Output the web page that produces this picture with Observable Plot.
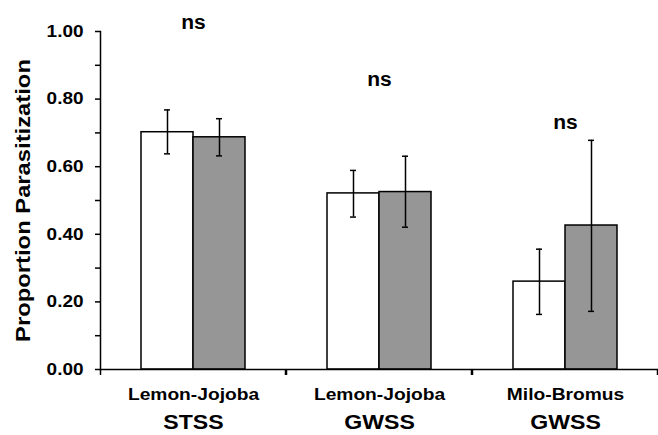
<!DOCTYPE html>
<html><head><meta charset="utf-8">
<script src="https://cdn.jsdelivr.net/npm/d3@7"></script>
<script src="https://cdn.jsdelivr.net/npm/@observablehq/plot@0.6"></script>
<style>
body{margin:0;background:#fff}
#chart svg{font-family:"Liberation Sans",Arial,sans-serif;font-weight:bold}
</style>
</head><body><div id="chart"></div>
<script>
const hosts = ["Lemon-Jojoba", "Lemon-Jojoba", "Milo-Bromus"];
const pests = ["STSS", "GWSS", "GWSS"];
const treatments = ["open", "shaded"];
const treatmentFill = ["#ffffff", "#969696"];
const meanOpen = [0.702, 0.521, 0.260];
const lowOpen = [0.638, 0.451, 0.163];
const highOpen = [0.768, 0.589, 0.356];
const meanShaded = [0.687, 0.525, 0.426];
const lowShaded = [0.632, 0.421, 0.172];
const highShaded = [0.742, 0.631, 0.678];
const sigLabels = ["ns", "ns", "ns"];
const sigY = [1.006, 0.840, 0.712];
const yTicks = [0, 0.2, 0.4, 0.6, 0.8, 1.0];
const yMinorTicks = [0.1, 0.3, 0.5, 0.7, 0.9];
const yLabel = "Proportion Parasitization";

const keys = hosts.map((h, i) => h + "|" + pests[i]);
const rows = [];
keys.forEach((k, i) => {
  rows.push({g: k, t: treatments[0], v: meanOpen[i], lo: lowOpen[i], hi: highOpen[i]});
  rows.push({g: k, t: treatments[1], v: meanShaded[i], lo: lowShaded[i], hi: highShaded[i]});
});
const sig = keys.map((k, i) => ({g: k, y: sigY[i], text: sigLabels[i]}));

const chart = Plot.plot({
  width: 658, height: 435,
  marginLeft: 100, marginRight: 0, marginTop: 31, marginBottom: 66,
  style: {background: "#fff", color: "#000", fontFamily: "'Liberation Sans', Arial, sans-serif", fontWeight: "bold"},
  fx: {domain: keys, padding: 0, axis: null},
  x: {domain: treatments, paddingInner: 0, paddingOuter: 0.755, axis: null},
  y: {domain: [0, 1], axis: null},
  color: {domain: treatments, range: treatmentFill},
  marks: [
    Plot.barY(rows, {fx: "g", x: "t", y: "v", fill: "t", stroke: "#000", strokeWidth: 1.5}),
    Plot.ruleY([0], {stroke: "#000", strokeWidth: 1.5}),
    Plot.ruleX(rows, {fx: "g", x: "t", y1: "lo", y2: "hi", stroke: "#000", strokeWidth: 1.5}),
    Plot.tickY(rows, {fx: "g", x: "t", y: "lo", insetLeft: 23, insetRight: 23, stroke: "#000", strokeWidth: 1.5}),
    Plot.tickY(rows, {fx: "g", x: "t", y: "hi", insetLeft: 23, insetRight: 23, stroke: "#000", strokeWidth: 1.5}),
    Plot.text(sig, {fx: "g", y: "y", text: "text", frameAnchor: "middle", lineAnchor: "bottom", fontSize: 20, fontWeight: "bold", fill: "#000"}),
    Plot.text([yLabel], {fx: () => keys[0], text: d => d, frameAnchor: "left", rotate: -90, dx: -77.5, textAnchor: "middle", lineAnchor: "middle", fontSize: 20.5, fontWeight: "bold", fill: "#000"}),
    Plot.frame({anchor: "left", facetAnchor: "left", stroke: "#000", strokeWidth: 1.5}),
    Plot.axisY(yTicks, {anchor: "left", tickSize: 5, tickPadding: 12, tickFormat: d3.format(".2f"), fontSize: 16.5, fontWeight: "bold", strokeWidth: 1.5, label: null}),
    Plot.axisY(yMinorTicks, {anchor: "left", tickSize: 5, tickFormat: () => "", strokeWidth: 1.5, label: null}),
    Plot.axisFx({anchor: "bottom", tickSize: 6, dx: -93, tickFormat: () => "", strokeWidth: 1.5, label: null}),
    Plot.axisFx({anchor: "bottom", tickSize: 6, dx: 92, tickFormat: () => "", strokeWidth: 1.5, label: null}),
    Plot.axisFx({anchor: "bottom", tickSize: 0, tickPadding: 19, tickFormat: k => k.split("|")[0], fontSize: 16, fontWeight: "bold", label: null}),
    Plot.axisFx({anchor: "bottom", tickSize: 0, tickPadding: 45, tickFormat: k => k.split("|")[1], fontSize: 21, fontWeight: "bold", label: null})
  ]
});
document.getElementById("chart").append(chart);

// widen glyphs slightly, as in the original artwork
const stretch = {"16.5": 1.15, "16": 1.2, "21": 1.1, "20.5": 1.16, "20": 1.05};
chart.querySelectorAll("text").forEach(t => {
  const g = t.closest("[font-size]");
  const fs = g ? String(parseFloat(g.getAttribute("font-size"))) : null;
  const f = stretch[fs];
  if (f && t.textContent.trim() !== "") {
    const len = t.getComputedTextLength();
    t.setAttribute("textLength", (len * f).toFixed(1));
    t.setAttribute("lengthAdjust", "spacingAndGlyphs");
  }
});
</script>
</body></html>
